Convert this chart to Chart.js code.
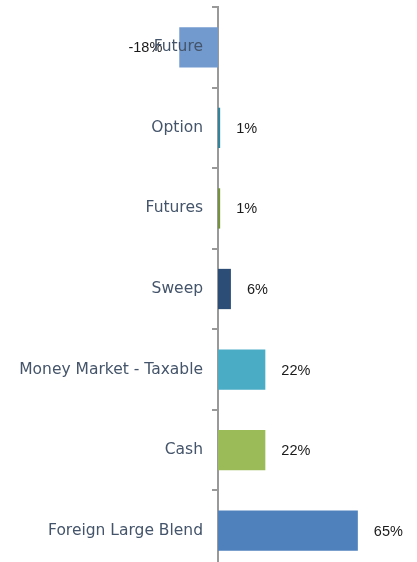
<!DOCTYPE html>
<html>
<head>
<meta charset="utf-8">
<script src="https://cdn.jsdelivr.net/npm/chart.js@4"></script>
<style>
  html, body { margin: 0; padding: 0; background: #fff; overflow: hidden; }
  #wrap { position: relative; width: 417px; height: 571px; }
</style>
</head>
<body>
<div id="wrap"><canvas id="chart"></canvas></div>
<script>
const categories = ['Future', 'Option', 'Futures', 'Sweep', 'Money Market - Taxable', 'Cash', 'Foreign Large Blend'];
const weights = [-18, 1, 1, 6, 22, 22, 65];
const barColors = ['#729ACF', '#31849B', '#76923C', '#2C4D75', '#4BACC6', '#9BBB59', '#4F81BD'];

// writes the % labels at the end of each bar
const valueLabels = {
  id: 'valueLabels',
  afterDatasetsDraw(chart) {
    const ctx = chart.ctx;
    const meta = chart.getDatasetMeta(0);
    ctx.save();
    ctx.font = '14.5px "Liberation Sans"';
    ctx.fillStyle = '#1a1a1a';
    ctx.textBaseline = 'middle';
    meta.data.forEach((bar, i) => {
      const v = weights[i];
      if (v < 0) {
        ctx.textAlign = 'right';
        ctx.fillText(v + '%', bar.x - 17, bar.y + 1);
      } else {
        ctx.textAlign = 'left';
        ctx.fillText(v + '%', bar.x + 16, bar.y + 1);
      }
    });
    ctx.restore();
  }
};

new Chart(document.getElementById('chart'), {
  type: 'bar',
  data: {
    labels: categories,
    datasets: [{
      data: weights,
      backgroundColor: barColors,
      barPercentage: 0.5,
      categoryPercentage: 1,
      clip: false
    }]
  },
  options: {
    indexAxis: 'y',
    responsive: true,
    maintainAspectRatio: false,
    animation: false,
    layout: { padding: { top: 7, left: 0, right: 0, bottom: 0 } },
    plugins: { legend: { display: false }, tooltip: { enabled: false } },
    scales: {
      x: {
        display: false,
        min: 0,
        max: 92.5
      },
      y: {
        border: { color: '#999', width: 2 },
        grid: { drawOnChartArea: false, tickLength: 6, color: '#999', lineWidth: 2 },
        ticks: {
          z: 1,
          color: '#44546A',
          padding: 9,
          font: { family: 'DejaVu Sans', size: 15.5 }
        },
        afterFit(scale) {
          scale.width = 218;
          scale.paddingTop = 0;
          scale.paddingBottom = 0;
        }
      }
    }
  },
  plugins: [valueLabels]
});
</script>
</body>
</html>
